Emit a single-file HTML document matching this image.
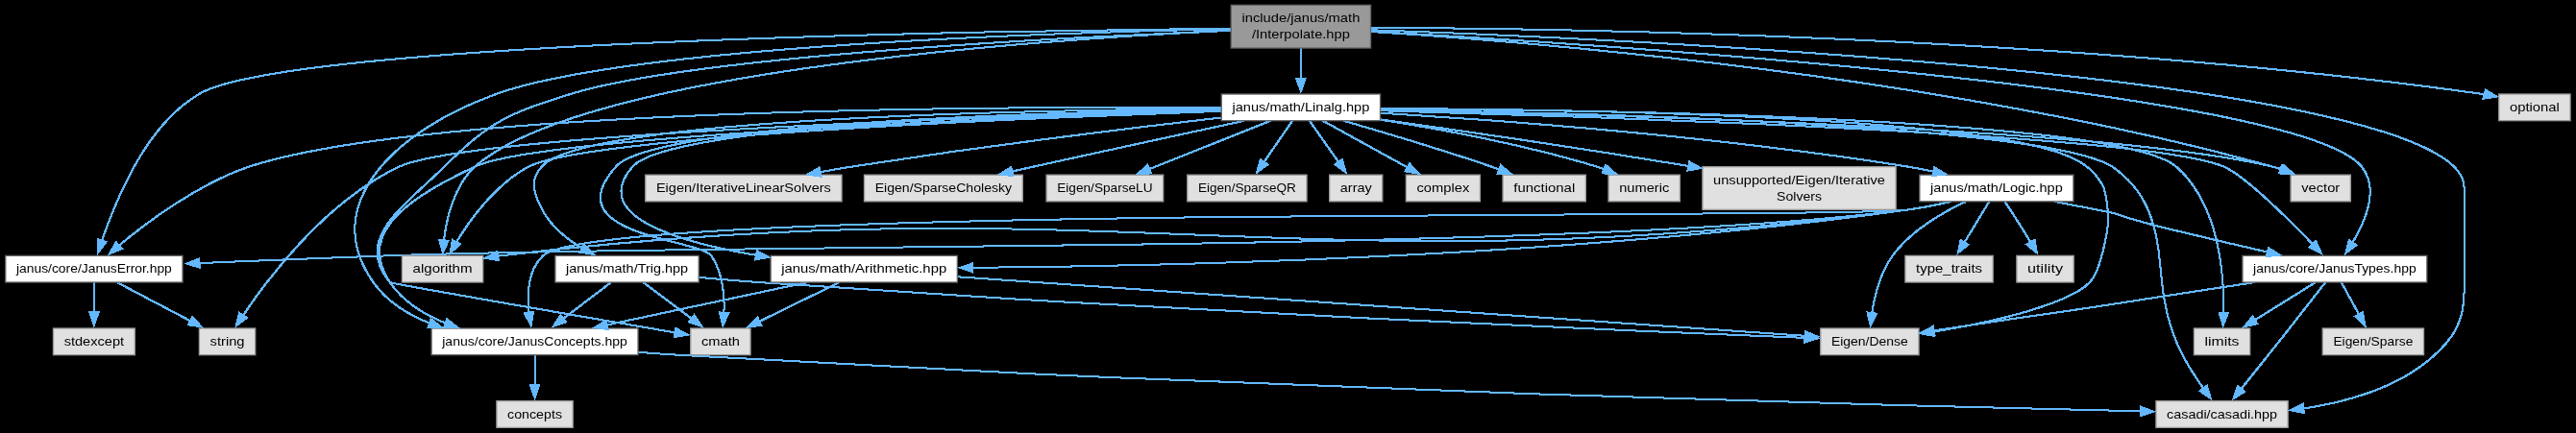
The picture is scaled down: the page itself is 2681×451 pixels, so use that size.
<!DOCTYPE html>
<html><head><meta charset="utf-8"><title>include/janus/math/Interpolate.hpp</title>
<style>
html,body{margin:0;padding:0;background:#000;}
body{width:2681px;height:451px;overflow:hidden;}
svg{display:block;}
text{font-family:"Liberation Sans",sans-serif;font-size:13.3px;text-anchor:middle;fill:#000;}
.n rect{stroke-width:1.3333}
.e path{fill:none;stroke:#63b8ff;stroke-width:1;shape-rendering:crispEdges}
#ed{transform:translate(-0.5px,-0.5px)}
.e polygon{fill:#63b8ff;stroke:#63b8ff;stroke-width:2;shape-rendering:crispEdges}
</style></head>
<body>
<svg width="2681" height="451" viewBox="0 0 2681 451">
<rect x="0" y="0" width="2681" height="451" fill="#000"/>
<g class="e">
<g id="ed">
<path d="M1280.95,30.15C1236.71,31.03 1175.55,32.57 1106.51,35.15 1037.46,37.74 960.54,41.37 884.78,46.47 809.02,51.58 734.43,58.14 670.05,66.58 605.66,75.01 551.48,85.32 516.56,97.91 491.84,106.83 467.74,118.19 446.55,131.57 425.37,144.95 406.95,160.33 393.56,177.28 380.16,194.22 371.27,212.73 369.57,232.34 367.88,251.96 373.45,272.69 388.56,294.11 392.19,299.25 396.30,303.96 400.80,308.27 405.30,312.57 410.18,316.48 415.35,320.03 420.51,323.57 425.97,326.76 431.61,329.61 437.24,332.47 443.07,335.00 448.97,337.25"/>
<path d="M1426.76,31.25C1492.31,33.51 1596.44,37.64 1715.69,44.37 1834.83,51.11 1968.97,60.43 2094.64,73.09 2220.10,85.74 2337.01,101.71 2422.65,121.73 2509.08,141.76 2564.22,165.83 2564.55,194.68 2564.55,194.68 2564.55,194.68 2564.56,196.03 2564.56,197.39 2564.56,200.10 2564.56,205.53 2564.56,210.96 2564.56,219.09 2564.56,231.30 2564.56,243.51 2564.56,259.79 2564.58,281.49 2564.77,291.92 2564.85,300.88 2564.39,308.90 2563.94,316.92 2562.95,324.00 2560.99,330.66 2559.03,337.31 2556.10,343.55 2551.77,349.90 2547.43,356.24 2541.59,362.69 2533.89,369.77 2524.51,378.41 2514.00,385.83 2502.79,392.21 2491.58,398.58 2479.68,403.91 2467.52,408.36 2455.35,412.80 2442.92,416.37 2430.65,419.24 2418.39,422.10 2406.28,424.26 2394.77,425.87"/>
<path d="M1280.91,29.52C1221.40,30.09 1130.27,31.23 1025.63,33.48 920.99,35.73 802.82,39.08 689.23,44.07 575.63,49.06 466.61,55.69 380.24,64.48 293.88,73.28 230.18,84.24 207.23,97.91 192.49,106.69 179.63,118.20 168.52,131.19 157.41,144.17 147.89,158.62 139.80,173.25 131.71,187.88 124.84,202.69 119.01,216.41 113.19,230.13 108.67,242.76 105.33,253.01"/>
<path d="M1426.72,32.80C1485.80,36.07 1575.94,41.46 1678.85,48.96 1781.67,56.46 1897.19,66.07 2007.16,77.80 2116.96,89.52 2221.17,103.35 2302.06,119.30 2383.42,135.25 2441.40,153.30 2457.79,173.47 2462.52,179.28 2465.14,185.80 2466.20,192.68 2467.23,199.56 2466.67,206.79 2465.08,214.02 2463.48,221.24 2460.85,228.47 2457.73,235.33 2454.61,242.19 2450.99,248.70 2447.41,254.48"/>
<path d="M1353.89,50.41C1353.89,53.01 1353.89,55.74 1353.89,58.54 1353.89,61.35 1353.89,64.23 1353.89,67.14 1353.89,70.04 1353.89,72.96 1353.89,75.84 1353.89,78.71 1353.89,81.55 1353.89,84.29"/>
<path d="M1280.71,31.70C1239.53,33.38 1183.95,35.88 1121.75,39.30 1059.56,42.73 990.74,47.08 923.11,52.46 855.49,57.84 789.04,64.25 731.57,71.79 674.10,79.33 625.61,88.00 593.89,97.91 577.63,103.00 564.22,107.31 552.50,111.66 540.91,116.02 531.01,120.40 521.64,125.63 512.27,130.85 503.43,136.92 493.96,144.63 484.49,152.33 474.39,161.68 462.51,173.47 452.13,183.78 441.10,193.63 430.80,203.33 420.42,213.02 411.00,222.55 404.11,232.21 397.23,241.87 392.88,251.67 392.65,261.88 392.42,272.09 396.31,282.74 405.89,294.11 406.20,294.46 419.27,296.94 440.18,300.70 461.08,304.46 489.68,309.50 521.19,315.00 552.73,320.50 587.04,326.46 619.29,332.03 651.53,337.61 681.73,342.80 704.95,346.79"/>
<path d="M1281.03,31.80C1234.61,33.96 1169.51,37.56 1096.12,43.34 1022.73,49.12 941.06,57.07 861.49,67.91 781.93,78.76 704.47,92.50 639.52,109.85 575.05,127.20 523.26,148.17 494.51,173.47 488.90,178.41 484.27,184.32 480.46,190.79 476.60,197.25 473.37,204.27 470.79,211.43 468.21,218.59 466.27,225.89 464.81,232.92 463.36,239.94 462.39,246.69 461.74,252.76"/>
<path d="M1426.62,32.97C1468.74,35.62 1527.12,39.78 1596.35,46.02 1665.52,52.26 1745.48,60.58 1830.78,71.53 1915.97,82.49 2006.43,96.09 2096.78,112.89 2189.78,129.69 2279.06,149.70 2364.73,173.47 2365.65,173.72 2366.58,173.99 2367.51,174.27 2368.45,174.55 2369.38,174.84 2370.32,175.15 2371.26,175.45 2372.20,175.76 2373.14,176.08 2374.08,176.40 2375.02,176.73 2375.95,177.06"/>
<path d="M1426.66,28.87C1474.49,29.02 1543.64,29.59 1627.28,31.32 1710.90,33.05 1808.99,35.94 1914.67,40.72 2020.30,45.50 2133.47,52.17 2247.29,61.46 2360.99,70.75 2475.27,82.65 2583.24,97.91 2583.65,97.97 2584.06,98.03 2584.47,98.09 2584.89,98.16 2585.30,98.22 2585.72,98.28 2586.13,98.35 2586.55,98.41 2586.96,98.48 2587.38,98.54 2587.79,98.61 2588.21,98.68"/>
<path d="M664.04,366.82C667.59,367.10 671.15,367.36 674.71,367.63 678.27,367.89 681.82,368.14 685.36,368.39 688.90,368.64 692.42,368.88 695.91,369.11 699.40,369.34 702.86,369.56 706.28,369.77 852.17,378.64 1005.72,386.40 1157.56,393.15 1309.37,399.89 1459.49,405.61 1598.74,410.40 1737.97,415.18 1866.35,419.02 1974.68,422.00 2082.98,424.97 2171.31,427.09 2230.46,428.42"/>
<path d="M556.56,369.88C556.56,372.20 556.56,374.76 556.56,377.46 556.56,380.17 556.56,383.02 556.56,385.94 556.56,388.87 556.56,391.86 556.56,394.84 556.56,397.82 556.56,400.79 556.56,403.66"/>
<path d="M97.89,294.21C97.89,296.54 97.89,299.09 97.89,301.80 97.89,304.50 97.89,307.36 97.89,310.28 97.89,313.20 97.89,316.19 97.89,319.17 97.89,322.15 97.89,325.12 97.89,328.00"/>
<path d="M122.05,294.21C127.46,297.06 133.52,300.25 139.96,303.64 146.39,307.02 153.19,310.61 160.09,314.24 166.99,317.87 173.99,321.55 180.80,325.14 187.61,328.73 194.24,332.22 200.41,335.47"/>
<path d="M2420.09,294.17C2415.24,300.42 2408.86,308.62 2401.64,317.89 2394.40,327.16 2386.30,337.50 2378.01,348.06 2369.68,358.61 2361.08,369.38 2353.01,379.50 2344.94,389.61 2337.38,399.08 2331.04,407.02"/>
<path d="M2346.30,294.13C2322.44,297.73 2295.26,301.88 2266.56,306.28 2238.13,310.68 2208.49,315.34 2178.57,319.96 2145.53,324.57 2114.12,329.15 2085.96,333.38 2057.82,337.62 2031.94,341.51 2010.30,344.78"/>
<path d="M2436.87,294.21C2438.20,296.64 2439.67,299.32 2441.22,302.16 2442.78,305.00 2444.42,307.99 2446.09,311.06 2447.77,314.12 2449.49,317.25 2451.19,320.36 2452.89,323.47 2454.58,326.56 2456.20,329.54"/>
<path d="M2409.62,294.21C2405.17,297.00 2400.20,300.11 2394.91,303.41 2389.62,306.71 2384.02,310.20 2378.33,313.74 2372.63,317.29 2366.84,320.89 2361.18,324.41 2355.51,327.92 2349.98,331.36 2344.78,334.58"/>
<path d="M1271.09,115.59C1220.57,117.19 1151.02,119.59 1074.02,122.79 997.03,125.99 912.69,129.99 832.59,134.81 752.51,139.62 676.49,145.25 616.26,151.69 556.03,158.13 511.58,165.39 494.51,173.47 479.58,180.54 464.32,188.17 450.42,196.49 436.28,204.82 423.49,213.84 413.77,223.70 404.05,233.56 397.40,244.26 395.51,255.94 393.63,267.63 396.52,280.29 405.89,294.11 409.41,299.28 413.45,304.02 417.90,308.34 422.35,312.67 427.21,316.59 432.36,320.15 437.51,323.70 442.95,326.89 448.56,329.75 454.17,332.60 459.96,335.13 465.79,337.37"/>
<path d="M1436.33,114.15C1486.25,114.92 1554.78,116.25 1630.40,118.51 1705.99,120.76 1788.71,123.94 1867.03,128.40 1945.48,132.87 2019.59,138.61 2077.87,146.00 2137.43,153.40 2180.29,162.43 2198.25,173.47 2217.74,187.35 2228.01,201.37 2234.43,215.90 2241.42,230.42 2244.48,245.44 2246.58,261.32 2248.66,277.19 2249.55,293.94 2252.50,311.91 2255.50,329.87 2260.71,349.04 2271.50,369.77 2273.15,372.91 2274.92,376.09 2276.78,379.25 2278.64,382.41 2280.58,385.57 2282.55,388.67 2284.53,391.77 2286.54,394.81 2288.54,397.75 2290.53,400.70 2292.52,403.54 2294.44,406.24"/>
<path d="M1271.02,112.24C1215.55,111.85 1136.24,111.65 1045.55,112.54 954.87,113.43 852.84,115.40 751.96,119.33 651.05,123.26 551.27,129.15 465.09,137.88 378.91,146.61 306.34,158.18 259.85,173.47 246.35,177.91 232.94,183.78 219.96,190.49 206.94,197.20 194.15,204.75 182.12,212.53 170.09,220.32 158.83,228.34 148.70,235.99 138.57,243.65 129.57,250.94 122.07,257.26"/>
<path d="M1271.11,115.13C1217.34,116.53 1141.72,118.70 1057.33,121.71 972.95,124.72 879.91,128.57 791.27,133.34 702.56,138.10 618.17,143.78 551.22,150.45 484.28,157.11 434.79,164.76 415.85,173.47 397.06,182.10 379.29,193.69 362.45,206.85 345.53,220.01 329.84,234.74 315.69,249.67 301.53,264.59 288.90,279.71 278.12,293.66 267.34,307.61 258.39,320.38 251.60,330.57"/>
<path d="M1436.46,115.21C1490.99,116.67 1568.11,118.93 1654.33,122.03 1740.53,125.12 1835.87,129.05 1926.96,133.86 2018.17,138.66 2106.32,144.33 2177.02,150.92 2244.37,157.51 2294.34,165.01 2314.28,173.47 2319.71,175.77 2326.63,180.33 2334.38,186.31 2342.13,192.29 2350.71,199.69 2359.48,207.68 2368.23,215.67 2377.15,224.25 2385.55,232.59 2393.95,240.94 2401.85,249.04 2408.58,256.07"/>
<path d="M1436.19,113.05C1485.50,113.20 1552.92,113.74 1627.07,115.30 1701.20,116.86 1782.06,119.43 1858.26,123.63 1934.53,127.84 2006.21,133.68 2061.92,141.78 2119.47,149.88 2155.68,160.24 2171.52,173.47 2176.12,176.13 2182.99,183.84 2189.13,194.20 2192.19,204.56 2194.17,217.57 2194.29,230.83 2192.86,244.09 2189.92,257.59 2186.69,268.93 2183.62,280.28 2179.50,289.48 2174.90,294.11 2168.85,300.39 2158.78,306.18 2146.21,311.47 2133.89,316.76 2119.69,321.56 2104.65,325.86 2089.62,330.16 2073.37,333.97 2057.19,337.29 2041.03,340.62 2024.95,343.45 2010.24,345.81"/>
<path d="M1436.50,113.22C1489.56,113.45 1563.86,114.09 1646.43,115.73 1728.98,117.36 1819.81,120.00 1905.97,124.23 1992.21,128.46 2073.83,134.28 2139.97,142.29 2204.68,150.30 2249.28,160.49 2264.79,173.47 2275.97,182.95 2284.56,194.85 2291.35,207.99 2298.38,221.13 2303.34,235.51 2306.81,249.97 2310.25,264.43 2312.22,278.96 2313.27,292.41 2314.31,305.87 2314.44,318.23 2314.21,328.31"/>
<path d="M1271.02,114.22C1227.07,114.99 1169.26,116.32 1106.63,118.56 1044.01,120.80 976.58,123.97 913.47,128.41 850.40,132.86 791.63,138.59 746.13,145.98 700.59,153.37 668.36,162.41 658.51,173.47 647.11,186.28 644.44,197.61 647.83,207.62 651.21,217.62 661.09,226.31 675.08,233.82 689.06,241.34 707.16,247.69 727.00,253.03 746.83,258.37 768.41,262.70 789.35,266.18"/>
<path d="M1270.99,114.03C1226.21,114.72 1166.98,115.93 1102.67,118.08 1038.36,120.23 968.99,123.31 904.00,127.73 839.06,132.14 778.47,137.90 731.53,145.39 684.57,152.88 651.32,162.10 641.18,173.47 625.01,191.58 622.14,205.35 627.26,216.09 632.37,226.82 645.66,234.53 661.43,240.51 677.19,246.50 695.45,250.76 710.50,254.61 725.55,258.46 737.41,261.91 740.39,266.25 743.44,270.72 745.79,275.64 747.59,280.81 749.51,285.98 750.88,291.40 751.82,296.85 752.75,302.30 753.26,307.79 753.47,313.09 753.67,318.39 753.58,323.51 753.32,328.23"/>
<path d="M1436.59,117.64C1466.87,119.47 1504.12,121.90 1545.95,125.02 1587.76,128.14 1634.17,131.93 1682.86,136.49 1731.55,141.04 1782.57,146.34 1833.56,152.48 1884.59,158.62 1935.81,165.59 1984.75,173.47 1987.17,173.86 1989.62,174.27 1992.09,174.71 1994.56,175.14 1997.05,175.60 1999.55,176.08 2002.05,176.55 2004.55,177.05 2007.05,177.55 2009.55,178.06 2012.05,178.58 2014.53,179.10"/>
<path d="M1271.08,115.79C1222.94,117.45 1157.69,119.89 1085.92,123.12 1014.16,126.34 935.93,130.35 861.84,135.16 787.81,139.96 717.75,145.55 662.31,151.93 606.87,158.32 566.08,165.50 550.51,173.47 541.87,177.90 533.77,183.58 526.26,190.00 518.73,196.42 511.55,203.58 505.00,210.98 498.46,218.38 492.55,226.01 487.34,233.36 482.13,240.71 477.62,247.79 473.86,254.08"/>
<path d="M1271.18,113.29C1222.86,113.58 1157.35,114.30 1085.53,116.01 1013.71,117.73 935.61,120.44 862.16,124.70 788.75,128.97 719.90,134.79 666.54,142.73 613.17,150.67 575.31,160.73 563.85,173.47 560.54,177.14 558.35,180.69 557.08,184.22 555.82,187.76 555.47,191.27 555.85,194.88 556.14,198.49 557.10,202.19 558.58,206.10 560.05,210.00 562.05,214.11 564.37,218.54 566.71,223.01 569.55,227.21 572.75,231.15 575.96,235.09 579.53,238.76 583.33,242.18 587.13,245.60 591.16,248.76 595.30,251.68 599.43,254.59 603.66,257.25 607.87,259.68"/>
<path d="M1271.02,122.46C1247.63,125.17 1220.31,128.40 1190.38,132.04 1160.45,135.69 1127.92,139.75 1094.12,144.13 1060.32,148.51 1025.26,153.22 990.27,158.14 955.39,163.06 920.63,168.20 887.31,173.47 884.36,173.94 881.37,174.42 878.36,174.92 875.34,175.41 872.30,175.93 869.25,176.45 866.19,176.97 863.13,177.50 860.07,178.04 857.01,178.58 853.95,179.12 850.91,179.67"/>
<path d="M1294.84,125.85C1280.77,128.88 1264.79,132.33 1247.55,136.06 1230.30,139.79 1211.80,143.80 1192.70,147.96 1173.60,152.11 1153.90,156.40 1134.26,160.70 1114.62,165.00 1095.05,169.30 1076.20,173.47 1074.16,173.92 1072.09,174.38 1070.01,174.84 1067.92,175.30 1065.82,175.77 1063.71,176.24 1061.59,176.71 1059.47,177.18 1057.34,177.66 1055.21,178.13 1053.08,178.61 1050.96,179.09"/>
<path d="M1321.99,125.89C1313.38,129.33 1303.50,133.29 1292.91,137.53 1282.30,141.77 1270.97,146.29 1259.52,150.87 1248.07,155.44 1236.49,160.07 1225.37,164.51 1214.24,168.96 1203.57,173.22 1193.93,177.07"/>
<path d="M1345.06,125.89C1343.00,128.87 1340.68,132.23 1338.20,135.82 1335.72,139.41 1333.07,143.24 1330.37,147.16 1327.68,151.08 1324.93,155.08 1322.22,159.02 1319.52,162.95 1316.87,166.83 1314.36,170.49"/>
<path d="M1362.91,125.89C1365.01,128.87 1367.38,132.23 1369.91,135.82 1372.44,139.41 1375.14,143.24 1377.90,147.16 1380.66,151.08 1383.47,155.08 1386.24,159.02 1389.00,162.95 1391.72,166.83 1394.29,170.49"/>
<path d="M1376.98,125.89C1382.99,129.21 1389.87,133.02 1397.23,137.09 1404.59,141.16 1412.44,145.51 1420.44,149.91 1428.44,154.32 1436.56,158.79 1444.42,163.12 1452.28,167.44 1459.88,171.62 1466.84,175.44"/>
<path d="M1398.58,125.84C1408.64,128.75 1420.00,132.07 1432.19,135.69 1444.39,139.31 1457.43,143.22 1470.84,147.33 1484.26,151.44 1498.06,155.75 1511.70,160.14 1525.32,164.53 1538.84,169.01 1551.82,173.47 1552.71,173.77 1553.61,174.08 1554.52,174.40 1555.42,174.72 1556.33,175.04 1557.24,175.36 1558.15,175.68 1559.07,176.01 1559.99,176.34 1560.90,176.67 1561.83,177.00 1562.75,177.34"/>
<path d="M1436.72,124.66C1452.40,127.12 1469.65,129.98 1487.88,133.23 1506.11,136.49 1525.25,140.15 1544.76,144.21 1564.26,148.27 1584.12,152.74 1603.76,157.61 1623.37,162.49 1642.76,167.77 1661.32,173.47 1662.18,173.73 1663.04,174.00 1663.91,174.28 1664.77,174.57 1665.65,174.86 1666.52,175.16 1667.39,175.45 1668.27,175.76 1669.14,176.07 1670.02,176.38 1670.89,176.70 1671.77,177.02"/>
<path d="M1436.40,124.41C1456.30,127.17 1478.99,130.36 1503.73,133.90 1528.39,137.44 1555.07,141.34 1583.01,145.51 1610.94,149.69 1640.13,154.15 1669.83,158.82 1699.51,163.50 1729.75,168.39 1759.82,173.42"/>
<path d="M1436.23,114.49C1488.34,115.48 1561.42,117.10 1644.44,119.62 1727.44,122.13 1820.42,125.54 1912.41,130.10 2004.53,134.67 2096.38,140.39 2178.09,147.53 2254.63,154.67 2320.73,163.23 2364.73,173.47 2365.74,173.70 2366.75,173.96 2367.77,174.23 2368.79,174.50 2369.81,174.78 2370.83,175.08 2371.85,175.38 2372.88,175.70 2373.90,176.03 2374.92,176.36 2375.94,176.70 2376.96,177.05"/>
<path d="M839.94,294.13C825.31,297.24 808.73,300.77 791.11,304.52 773.49,308.27 754.82,312.24 736.05,316.23 717.29,320.23 698.39,324.26 680.27,328.12 662.16,331.98 644.82,335.68 629.15,339.01"/>
<path d="M996.76,288.29C1049.56,291.97 1120.10,296.90 1198.98,302.40 1277.87,307.90 1365.11,313.99 1451.30,320.00 1537.50,326.02 1622.65,331.96 1697.37,337.17 1772.09,342.38 1836.37,346.87 1880.83,349.97"/>
<path d="M873.30,294.21C867.43,297.09 860.84,300.31 853.85,303.73 846.86,307.15 839.46,310.77 831.96,314.44 824.45,318.11 816.85,321.82 809.45,325.44 802.05,329.05 794.85,332.57 788.17,335.83"/>
<path d="M2030.47,209.99C2026.85,210.83 2023.13,211.66 2019.35,212.47 2015.57,213.28 2011.73,214.06 2007.88,214.80 2004.03,215.53 2000.17,216.23 1996.33,216.86 1992.49,217.49 1988.68,218.05 1984.94,218.54 1965.36,221.07 1870.18,221.97 1738.26,222.73 1606.64,223.48 1437.38,224.10 1268.72,226.07 1099.19,228.05 930.48,231.38 800.87,237.58 671.00,243.77 579.83,252.83 565.29,266.25 561.13,270.09 557.96,274.64 555.58,279.60 553.28,284.58 551.77,289.98 550.86,295.53 549.94,301.07 549.62,306.77 549.69,312.32 549.76,317.88 550.22,323.30 550.88,328.30"/>
<path d="M2030.48,210.01C2026.85,210.86 2023.13,211.69 2019.35,212.50 2015.57,213.31 2011.73,214.09 2007.88,214.83 2004.03,215.56 2000.17,216.25 1996.33,216.87 1992.49,217.50 1988.68,218.06 1984.94,218.54 1897.82,229.67 1777.74,237.44 1641.14,243.03 1504.50,248.61 1350.71,252.01 1196.80,254.41 1042.71,256.81 888.74,258.21 751.63,259.79 614.39,261.37 493.77,263.13 405.89,266.25 389.21,266.84 372.02,267.48 354.69,268.14 337.37,268.80 319.90,269.48 302.68,270.16 285.45,270.85 268.46,271.54 252.07,272.21 235.69,272.89 219.91,273.55 205.11,274.18"/>
<path d="M2138.53,209.97C2156.21,213.55 2179.53,217.69 2200.08,222.13 2213.10,226.57 2228.96,231.31 2247.72,236.09 2267.52,240.87 2287.55,245.68 2306.96,250.27 2326.65,254.85 2345.44,259.21 2362.11,263.08"/>
<path d="M2045.78,210.09C2039.69,212.92 2033.09,216.20 2026.32,219.96 2019.55,223.71 2012.61,227.93 2005.83,232.61 1999.05,237.29 1992.43,242.44 1986.32,248.04 1980.20,253.65 1974.58,259.72 1969.79,266.25 1966.47,270.78 1963.62,275.74 1961.16,280.94 1958.69,286.15 1956.62,291.58 1954.88,297.04 1953.14,302.50 1951.74,307.98 1950.61,313.27 1949.48,318.57 1948.62,323.67 1947.96,328.38"/>
<path d="M2029.48,210.00C2025.91,210.82 2022.26,211.64 2018.56,212.43 2014.86,213.22 2011.11,214.00 2007.34,214.73 2003.58,215.46 1999.81,216.16 1996.06,216.80 1992.31,217.44 1988.60,218.02 1984.94,218.54 1896.53,230.98 1803.98,240.88 1711.65,248.76 1619.33,256.64 1527.11,262.49 1439.57,266.83 1352.04,271.17 1269.41,274.00 1196.29,275.82 1123.17,277.65 1059.63,278.48 1010.28,278.83"/>
<path d="M2030.48,210.00C2026.85,210.84 2023.13,211.67 2019.35,212.48 2015.57,213.29 2011.73,214.07 2007.88,214.80 2004.03,215.54 2000.17,216.23 1996.33,216.86 1992.49,217.49 1988.68,218.05 1984.94,218.54 1823.70,239.37 1692.20,247.99 1575.49,250.39 1458.52,252.79 1356.38,248.97 1254.28,244.94 1151.90,240.91 1049.47,236.66 932.19,238.21 815.26,239.76 683.19,247.11 521.54,266.25 521.05,266.31 520.56,266.37 520.07,266.43 519.58,266.49 519.09,266.55 518.60,266.62 518.10,266.68 517.61,266.75 517.11,266.82 516.62,266.89 516.12,266.96 515.62,267.03"/>
<path d="M2070.20,210.07C2068.41,213.01 2066.40,216.33 2064.25,219.88 2062.09,223.44 2059.80,227.22 2057.45,231.10 2055.11,234.97 2052.71,238.93 2050.35,242.83 2047.98,246.73 2045.66,250.58 2043.46,254.22"/>
<path d="M2086.59,210.07C2088.56,213.01 2090.76,216.33 2093.09,219.88 2095.40,223.44 2097.84,227.22 2100.31,231.10 2102.75,234.97 2105.23,238.93 2107.63,242.83 2110.01,246.73 2112.33,250.58 2114.51,254.22"/>
<path d="M635.84,294.21C632.31,296.90 628.37,299.89 624.19,303.07 620.02,306.24 615.60,309.60 611.11,313.02 606.61,316.44 602.04,319.91 597.55,323.33 593.07,326.74 588.66,330.09 584.50,333.25"/>
<path d="M728.45,288.95C733.50,289.42 738.65,289.88 743.84,290.33 749.03,290.79 754.28,291.24 759.53,291.68 764.78,292.12 770.02,292.54 775.22,292.95 780.42,293.36 785.56,293.74 790.60,294.11 894.12,301.54 1003.19,308.44 1111.17,314.71 1219.16,320.99 1326.05,326.64 1425.46,331.58 1524.87,336.52 1616.80,340.75 1694.86,344.18 1772.92,347.61 1837.10,350.25 1881.02,352.00"/>
<path d="M669.55,294.21C673.13,296.90 677.13,299.89 681.36,303.07 685.59,306.24 690.07,309.60 694.63,313.02 699.18,316.44 703.81,319.91 708.36,323.33 712.91,326.74 717.37,330.09 721.59,333.25"/>
</g>
<use href="#ed" x="1" y="0"/><use href="#ed" x="0" y="1"/><use href="#ed" x="1" y="1"/>
</g>
<g class="n">
<rect x="1281.25" y="5.33" width="145.29" height="44.67" fill="#999999" stroke="#666666"/>
<rect x="1271.26" y="98.00" width="165.27" height="27.67" fill="#ffffff" stroke="#666666"/>
<rect x="2600.74" y="98.00" width="74.31" height="27.67" fill="#e0e0e0" stroke="#999999"/>
<rect x="671.75" y="182.17" width="204.28" height="27.67" fill="#e0e0e0" stroke="#999999"/>
<rect x="899.49" y="182.17" width="164.81" height="27.67" fill="#e0e0e0" stroke="#999999"/>
<rect x="1089.09" y="182.17" width="121.62" height="27.67" fill="#e0e0e0" stroke="#999999"/>
<rect x="1235.75" y="182.17" width="124.28" height="27.67" fill="#e0e0e0" stroke="#999999"/>
<rect x="1383.67" y="182.17" width="55.11" height="27.67" fill="#e0e0e0" stroke="#999999"/>
<rect x="1463.35" y="182.17" width="77.08" height="27.67" fill="#e0e0e0" stroke="#999999"/>
<rect x="1564.07" y="182.17" width="86.32" height="27.67" fill="#e0e0e0" stroke="#999999"/>
<rect x="1674.06" y="182.17" width="74.33" height="27.67" fill="#e0e0e0" stroke="#999999"/>
<rect x="1771.93" y="173.67" width="201.26" height="44.67" fill="#e0e0e0" stroke="#999999"/>
<rect x="1997.88" y="182.17" width="160.03" height="27.67" fill="#ffffff" stroke="#666666"/>
<rect x="2384.07" y="182.17" width="62.32" height="27.67" fill="#e0e0e0" stroke="#999999"/>
<rect x="5.77" y="266.33" width="184.25" height="27.67" fill="#ffffff" stroke="#666666"/>
<rect x="418.40" y="266.33" width="84.31" height="27.67" fill="#e0e0e0" stroke="#999999"/>
<rect x="577.90" y="266.33" width="149.32" height="27.67" fill="#ffffff" stroke="#666666"/>
<rect x="802.09" y="266.33" width="194.26" height="27.67" fill="#ffffff" stroke="#666666"/>
<rect x="1982.91" y="266.33" width="91.29" height="27.67" fill="#e0e0e0" stroke="#999999"/>
<rect x="2098.90" y="266.33" width="59.31" height="27.67" fill="#e0e0e0" stroke="#999999"/>
<rect x="2333.95" y="266.33" width="191.89" height="27.67" fill="#ffffff" stroke="#666666"/>
<rect x="55.49" y="342.00" width="84.81" height="27.67" fill="#e0e0e0" stroke="#999999"/>
<rect x="207.41" y="342.00" width="58.31" height="27.67" fill="#e0e0e0" stroke="#999999"/>
<rect x="449.08" y="342.00" width="214.97" height="27.67" fill="#ffffff" stroke="#666666"/>
<rect x="718.73" y="342.00" width="62.32" height="27.67" fill="#e0e0e0" stroke="#999999"/>
<rect x="1894.74" y="342.00" width="102.31" height="27.67" fill="#e0e0e0" stroke="#999999"/>
<rect x="2283.41" y="342.00" width="58.31" height="27.67" fill="#e0e0e0" stroke="#999999"/>
<rect x="2417.25" y="342.00" width="105.29" height="27.67" fill="#e0e0e0" stroke="#999999"/>
<rect x="516.91" y="417.67" width="79.30" height="27.67" fill="#e0e0e0" stroke="#999999"/>
<rect x="2243.93" y="417.67" width="137.26" height="27.67" fill="#e0e0e0" stroke="#999999"/>
</g>
<g class="t" style="filter:grayscale(1)">
<text x="1353.89" y="23.33" textLength="122.96" lengthAdjust="spacingAndGlyphs">include/janus/math</text>
<text x="1353.89" y="40.33" textLength="101.95" lengthAdjust="spacingAndGlyphs">/Interpolate.hpp</text>
<text x="1353.89" y="116.00" textLength="142.93" lengthAdjust="spacingAndGlyphs">janus/math/Linalg.hpp</text>
<text x="2637.89" y="116.00" textLength="51.98" lengthAdjust="spacingAndGlyphs">optional</text>
<text x="773.89" y="200.17" textLength="181.95" lengthAdjust="spacingAndGlyphs">Eigen/IterativeLinearSolvers</text>
<text x="981.89" y="200.17" textLength="142.48" lengthAdjust="spacingAndGlyphs">Eigen/SparseCholesky</text>
<text x="1149.89" y="200.17" textLength="99.28" lengthAdjust="spacingAndGlyphs">Eigen/SparseLU</text>
<text x="1297.89" y="200.17" textLength="101.95" lengthAdjust="spacingAndGlyphs">Eigen/SparseQR</text>
<text x="1411.23" y="200.17" textLength="32.77" lengthAdjust="spacingAndGlyphs">array</text>
<text x="1501.89" y="200.17" textLength="54.75" lengthAdjust="spacingAndGlyphs">complex</text>
<text x="1607.23" y="200.17" textLength="63.99" lengthAdjust="spacingAndGlyphs">functional</text>
<text x="1711.23" y="200.17" textLength="52.00" lengthAdjust="spacingAndGlyphs">numeric</text>
<text x="1872.56" y="191.67" textLength="178.92" lengthAdjust="spacingAndGlyphs">unsupported/Eigen/Iterative</text>
<text x="1872.56" y="208.67" textLength="46.98" lengthAdjust="spacingAndGlyphs">Solvers</text>
<text x="2077.89" y="200.17" textLength="137.69" lengthAdjust="spacingAndGlyphs">janus/math/Logic.hpp</text>
<text x="2415.23" y="200.17" textLength="39.99" lengthAdjust="spacingAndGlyphs">vector</text>
<text x="97.89" y="284.33" textLength="161.92" lengthAdjust="spacingAndGlyphs">janus/core/JanusError.hpp</text>
<text x="460.56" y="284.33" textLength="61.98" lengthAdjust="spacingAndGlyphs">algorithm</text>
<text x="652.56" y="284.33" textLength="126.98" lengthAdjust="spacingAndGlyphs">janus/math/Trig.hpp</text>
<text x="899.23" y="284.33" textLength="171.93" lengthAdjust="spacingAndGlyphs">janus/math/Arithmetic.hpp</text>
<text x="2028.56" y="284.33" textLength="68.96" lengthAdjust="spacingAndGlyphs">type_traits</text>
<text x="2128.56" y="284.33" textLength="36.98" lengthAdjust="spacingAndGlyphs">utility</text>
<text x="2429.89" y="284.33" textLength="169.56" lengthAdjust="spacingAndGlyphs">janus/core/JanusTypes.hpp</text>
<text x="97.89" y="360.00" textLength="62.48" lengthAdjust="spacingAndGlyphs">stdexcept</text>
<text x="236.56" y="360.00" textLength="35.98" lengthAdjust="spacingAndGlyphs">string</text>
<text x="556.56" y="360.00" textLength="192.64" lengthAdjust="spacingAndGlyphs">janus/core/JanusConcepts.hpp</text>
<text x="749.89" y="360.00" textLength="39.99" lengthAdjust="spacingAndGlyphs">cmath</text>
<text x="1945.89" y="360.00" textLength="79.97" lengthAdjust="spacingAndGlyphs">Eigen/Dense</text>
<text x="2312.56" y="360.00" textLength="35.97" lengthAdjust="spacingAndGlyphs">limits</text>
<text x="2469.89" y="360.00" textLength="82.95" lengthAdjust="spacingAndGlyphs">Eigen/Sparse</text>
<text x="556.56" y="435.67" textLength="56.97" lengthAdjust="spacingAndGlyphs">concepts</text>
<text x="2312.56" y="435.67" textLength="114.93" lengthAdjust="spacingAndGlyphs">casadi/casadi.hpp</text>
</g>
<g class="e">
<polygon points="448.57,332.20 459.66,340.91 445.54,340.99"/>
<polygon points="2397.91,430.16 2384.11,427.21 2396.75,420.93"/>
<polygon points="110.55,251.93 102.18,263.25 101.63,249.22"/>
<polygon points="2452.48,255.27 2441.24,263.78 2444.70,250.15"/>
<polygon points="1358.54,81.93 1353.89,95.18 1349.23,81.93"/>
<polygon points="703.37,341.81 715.69,348.64 701.86,350.97"/>
<polygon points="466.56,250.67 460.92,263.52 457.28,249.97"/>
<polygon points="2375.24,171.79 2385.92,180.95 2371.86,180.43"/>
<polygon points="2586.81,93.62 2598.48,100.62 2584.42,102.74"/>
<polygon points="2228.19,423.73 2241.35,428.67 2227.97,433.03"/>
<polygon points="561.20,401.16 556.56,414.43 551.89,401.16"/>
<polygon points="102.56,325.49 97.89,338.76 93.23,325.49"/>
<polygon points="200.24,330.13 209.84,340.43 195.88,338.34"/>
<polygon points="2336.27,407.93 2324.32,415.44 2328.96,402.15"/>
<polygon points="2013.47,349.01 1999.66,346.39 2011.99,339.82"/>
<polygon points="2459.09,325.18 2461.43,339.09 2450.92,329.52"/>
<polygon points="2349.33,337.26 2335.58,340.27 2344.38,329.35"/>
<polygon points="465.23,332.26 476.27,340.99 462.17,341.03"/>
<polygon points="2296.84,401.66 2300.93,415.12 2289.35,407.15"/>
<polygon points="126.94,259.20 113.80,264.38 120.83,252.20"/>
<polygon points="256.93,330.94 245.77,339.57 249.09,325.89"/>
<polygon points="2410.29,251.14 2416.06,263.96 2403.58,257.53"/>
<polygon points="2013.41,350.02 1999.58,347.46 2011.89,340.83"/>
<polygon points="2318.96,326.11 2313.75,339.16 2309.71,325.69"/>
<polygon points="787.81,261.23 800.03,267.88 786.16,270.39"/>
<polygon points="758.17,326.36 752.30,339.11 748.90,325.43"/>
<polygon points="2013.27,174.07 2025.21,181.46 2011.19,183.13"/>
<polygon points="479.04,254.38 468.44,263.60 470.96,249.79"/>
<polygon points="608.09,254.52 617.54,264.81 603.67,262.73"/>
<polygon points="854.46,183.76 840.52,181.58 852.55,174.63"/>
<polygon points="1054.39,183.09 1040.34,181.46 1052.21,174.04"/>
<polygon points="1198.12,180.43 1184.01,181.04 1194.52,171.81"/>
<polygon points="1319.42,171.35 1308.17,179.55 1311.77,166.02"/>
<polygon points="1396.81,166.04 1400.65,179.57 1389.27,171.37"/>
<polygon points="1467.01,170.26 1476.48,180.74 1462.54,178.37"/>
<polygon points="1561.86,172.07 1572.64,181.03 1558.68,180.76"/>
<polygon points="1671.18,171.79 1681.69,180.97 1667.74,180.43"/>
<polygon points="1758.09,168.41 1770.29,175.18 1756.45,177.57"/>
<polygon points="2376.37,171.84 2387.07,180.97 2373.01,180.49"/>
<polygon points="632.76,343.01 618.83,341.22 630.75,333.91"/>
<polygon points="1878.87,345.17 1891.90,350.74 1878.36,354.45"/>
<polygon points="792.56,338.89 778.58,340.51 788.42,330.52"/>
<polygon points="555.02,324.94 552.70,338.79 545.84,326.44"/>
<polygon points="207.76,278.70 194.24,274.63 207.36,269.44"/>
<polygon points="2360.89,258.05 2372.76,265.56 2358.84,267.07"/>
<polygon points="1952.84,326.59 1946.78,339.19 1943.60,325.45"/>
<polygon points="1012.50,283.47 999.15,278.90 1012.51,274.18"/>
<polygon points="518.86,271.19 505.03,268.78 517.37,262.04"/>
<polygon points="2048.60,254.80 2037.75,263.64 2040.57,249.92"/>
<polygon points="2117.60,249.86 2120.01,263.62 2109.15,254.65"/>
<polygon points="589.19,335.55 575.86,339.82 583.55,328.13"/>
<polygon points="1878.71,347.26 1891.91,352.42 1878.45,356.54"/>
<polygon points="722.48,328.14 730.35,339.83 716.95,335.56"/>
</g>
</svg>
</body></html>
